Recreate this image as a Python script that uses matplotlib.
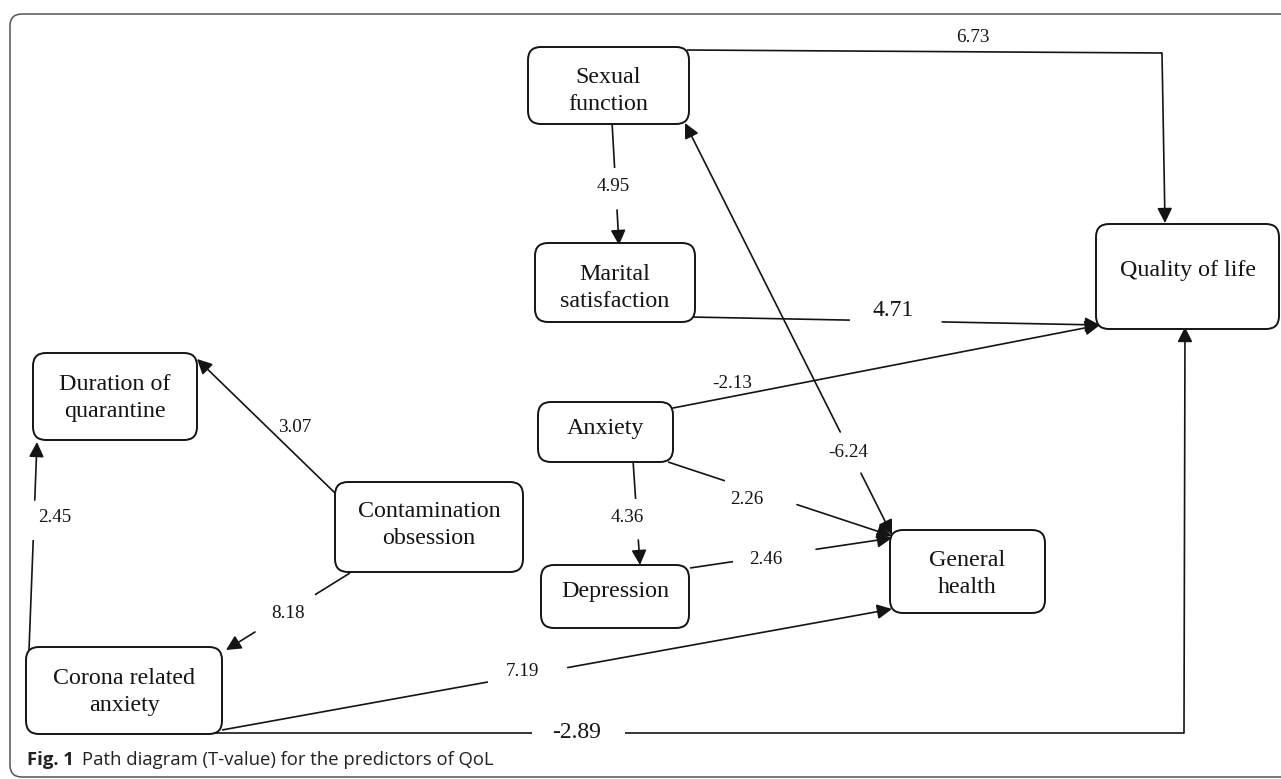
import numpy as np
import matplotlib.pyplot as plt
from matplotlib.patches import FancyBboxPatch, FancyArrowPatch

W, H = 1281, 779

# constructs of the path model
nodes = ['Sexual\nfunction', 'Marital\nsatisfaction', 'Quality of life',
         'Duration of\nquarantine', 'Contamination\nobsession', 'Anxiety',
         'Depression', 'General\nhealth', 'Corona related\nanxiety']

# paths (from, to) and their T-values
paths = [(0, 2), (0, 1), (1, 2), (5, 2), (7, 0), (5, 7), (5, 6),
         (6, 7), (8, 7), (8, 2), (4, 3), (8, 3), (4, 8)]
t_values = ['6.73', '4.95', '4.71', '-2.13', '-6.24', '2.26', '4.36',
            '2.46', '7.19', '-2.89', '3.07', '2.45', '8.18']

# ---- layout (pixels, y downwards) ----
box_xy = [(528, 47, 689, 124), (535, 243, 695, 322), (1096, 224, 1279, 329),
          (33, 353, 197, 440), (335, 482, 523, 572), (538, 402, 673, 462),
          (541, 565, 689, 628), (890, 530, 1045, 613), (26, 647, 222, 734)]
text_y = [91, 288, 270, 398, 525, 428, 592, 574, 692]

routes = [
    [(687, 50), (1162, 53), (1165, 223)],
    [(612, 122), (619, 245)],
    [(690, 317), (1100, 325)],
    [(673, 408), (1100, 325)],
    [(892, 535), (685, 123)],
    [(668, 462), (892, 536)],
    [(633, 460), (640, 565)],
    [(690, 568), (892, 538)],
    [(222, 730), (892, 609)],
    [(215, 733), (1184, 733), (1185, 327)],
    [(335, 493), (197, 359)],
    [(29, 650), (37, 442)],
    [(350, 573), (226, 650)],
]
gaps = [None, (0.374, 0.715), (0.39, 0.615), None, (0.15, 0.25), (0.254, 0.576),
        (0.371, 0.762), (0.213, 0.624), (0.397, 0.516), (0.327, 0.423), None,
        (0.529, 0.721), (0.282, 0.766)]
label_xy = [(973, 37), (613, 186), (893, 310), (732, 383), (848, 452), (747, 499),
            (627, 518), (766, 560), (522, 671), (577, 733), (295, 427), (55, 518),
            (288, 613)]
big_label = [False, False, True, False, False, False, False, False, False, True,
             False, False, False]
both_heads = [False, False, False, False, True, False, False, False, False, False,
              False, False, False]

INK = '#141414'
SERIF = 'Liberation Serif'
HEAD = 'head_length=0.9,head_width=0.45'


def arrow(ax, p, q, style):
    ax.add_patch(FancyArrowPatch(p, q, arrowstyle=style + ',' + HEAD,
                                 mutation_scale=10, shrinkA=0, shrinkB=0,
                                 color=INK, lw=1.2, zorder=1))


def draw_path(ax, pts, gap, both):
    pts = np.asarray(pts, float)
    pieces = []
    p0, p1 = pts[0], pts[1]
    if gap is None:
        pieces.append([p0, p1])
    else:
        pieces.append([p0, p0 + gap[0] * (p1 - p0)])
        pieces.append([p0 + gap[1] * (p1 - p0), p1])
    for k in range(1, len(pts) - 1):
        pieces.append([pts[k], pts[k + 1]])
    for i, (a, b) in enumerate(pieces):
        last = i == len(pieces) - 1
        first = i == 0
        if last and first and both:
            arrow(ax, a, b, '<|-|>')
        elif last:
            arrow(ax, a, b, '-|>')
        elif first and both:
            arrow(ax, a, b, '<|-')
        else:
            ax.plot([a[0], b[0]], [a[1], b[1]], color=INK, lw=1.2, zorder=1,
                    solid_capstyle='butt')


fig = plt.figure(figsize=(W / 100, H / 100), dpi=100)
ax = fig.add_axes([0, 0, 1, 1])
ax.set_xlim(0, W)
ax.set_ylim(H, 0)
ax.axis('off')

# outer frame of the figure panel
ax.add_patch(FancyBboxPatch((10, 14), 1300, 763,
                            boxstyle='round,pad=0,rounding_size=12',
                            fc='none', ec='#555555', lw=1.1, zorder=0))

for i in range(len(paths)):
    draw_path(ax, routes[i], gaps[i], both_heads[i])
    ax.text(label_xy[i][0], label_xy[i][1], t_values[i], ha='center',
            va='center', family=SERIF, fontsize=17 if big_label[i] else 13.8,
            color=INK, zorder=3)

for name, (x0, y0, x1, y1), ty in zip(nodes, box_xy, text_y):
    ax.add_patch(FancyBboxPatch((x0, y0), x1 - x0, y1 - y0,
                                boxstyle='round,pad=0,rounding_size=13',
                                fc='white', ec=INK, lw=1.4, zorder=2))
    ax.text((x0 + x1) / 2, ty, name, ha='center', va='center', family=SERIF,
            fontsize=17.3, linespacing=1.35, color=INK, zorder=3)

cap = ax.text(27, 760, 'Fig. 1', ha='left', va='center', family='Open Sans',
              fontweight='bold', fontsize=13.3, color='#222222')
ax.annotate('Path diagram (T-value) for the predictors of QoL', xy=(1, 0.5),
            xycoords=cap, xytext=(6, 0), textcoords='offset points',
            ha='left', va='center', family='Open Sans', fontsize=13.3,
            color='#222222')

fig.savefig('out.png', dpi=100)
